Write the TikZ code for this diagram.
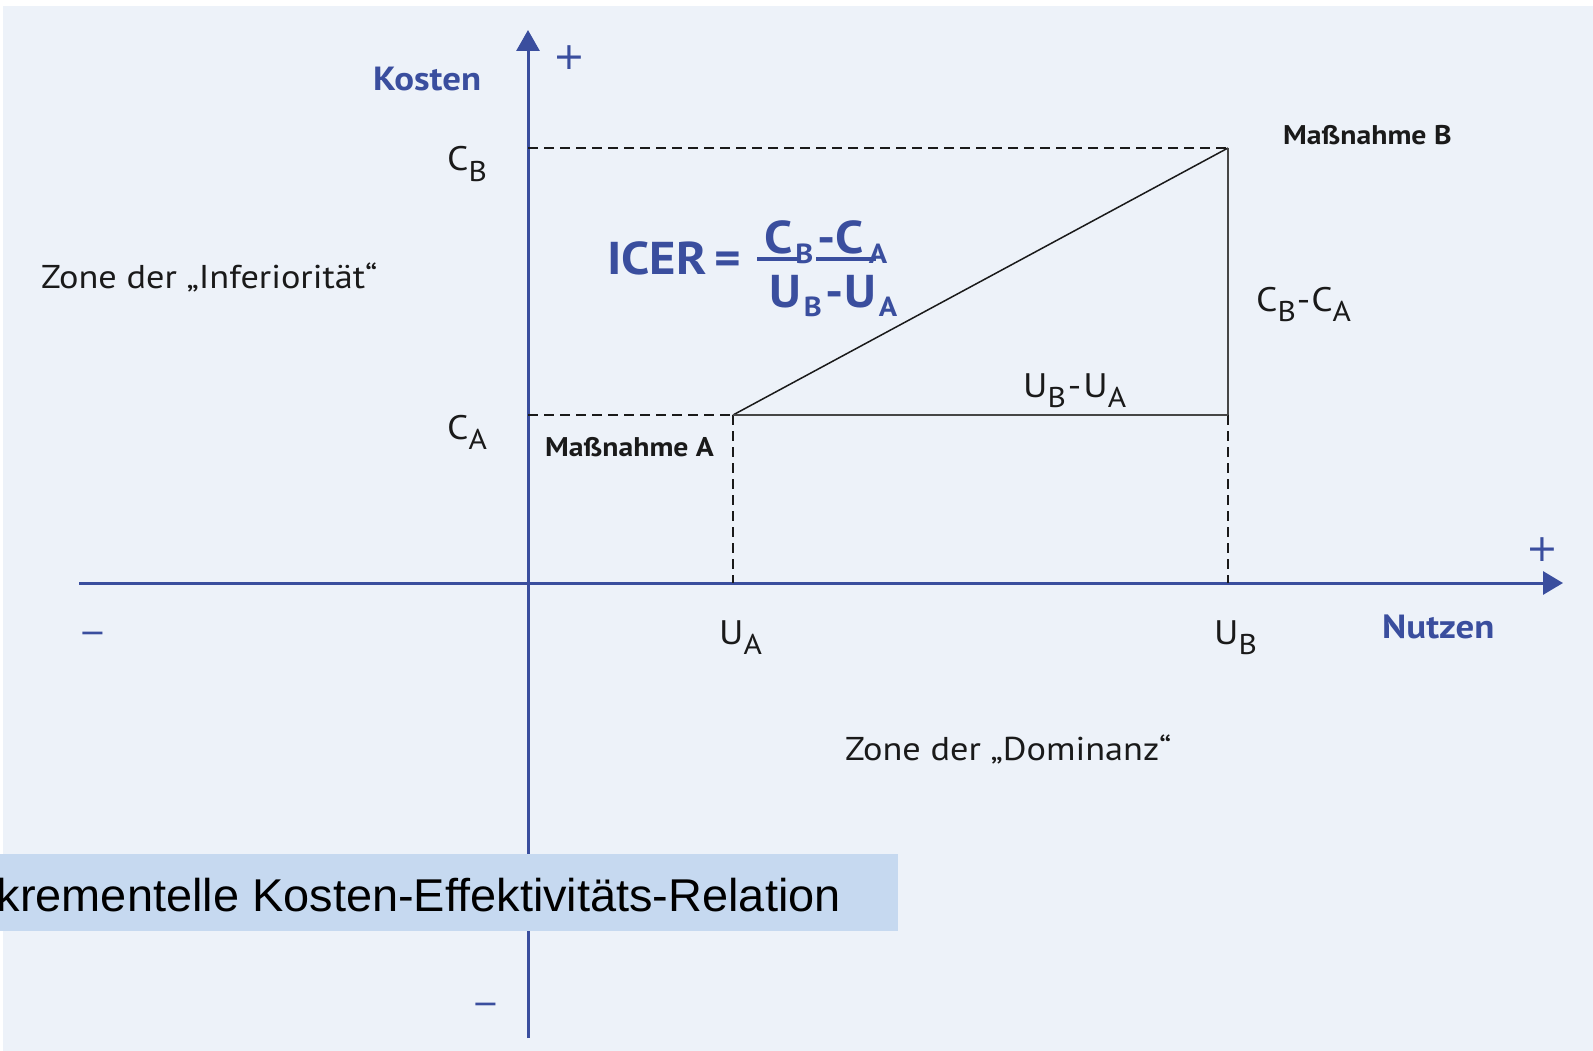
\documentclass[tikz,border=0pt]{standalone}
\usepackage{fontspec}
\setmainfont{PT Sans}[FakeStretch=1.1]
\newfontfamily\arialf{Liberation Sans}
\newfontfamily\dejavu{DejaVu Sans}
\usetikzlibrary{arrows.meta}
\definecolor{bgblue}{RGB}{237,242,249}
\definecolor{axblue}{RGB}{58,78,158}
\definecolor{capblue}{RGB}{198,217,240}
\definecolor{txt}{RGB}{26,26,26}
\definecolor{lgray}{RGB}{70,70,70}
\newcommand{\lsub}[1]{\raisebox{-0.3em}{\scalebox{0.84}{#1}}}
\newcommand{\isub}[1]{\kern3pt\raisebox{-0.2em}{\scalebox{0.6}{#1}}\kern4pt}
\begin{document}
\begin{tikzpicture}[x=1pt,y=-1pt,
  axis/.style={draw=axblue,line width=3pt},
  guide/.style={draw=txt,line width=2.5pt,dash pattern=on 10pt off 6pt},
  side/.style={draw=lgray,line width=1.8pt},
  lbl/.style={inner sep=0pt,text=txt,font=\fontsize{34}{40}\selectfont},
  zone/.style={inner sep=0pt,text=txt,font=\fontsize{33}{38}\selectfont},
  mass/.style={inner sep=0pt,text=txt,font=\bfseries\fontsize{27}{31}\selectfont},
  axlbl/.style={inner sep=0pt,text=axblue,font=\bfseries\fontsize{33.5}{38}\selectfont},
  sign/.style={inner sep=0pt,text=axblue,font=\dejavu\fontsize{38}{42}\selectfont},
  msign/.style={inner sep=0pt,text=axblue,font=\dejavu\fontsize{32}{36}\selectfont},
  icer/.style={inner sep=0pt,text=axblue,font=\bfseries\fontsize{46}{52}\selectfont}]
\useasboundingbox (0,0) rectangle (1593,1051);
\fill[white] (0,0) rectangle (1593,1051);
\fill[bgblue] (3,6) rectangle (1593,1051);
% coordinates
\coordinate (ybot) at (528,1038);
\coordinate (ytop) at (528,30);
\coordinate (xleft) at (79,583);
\coordinate (xright) at (1563,583);
\coordinate (cbaxis) at (528,148);
\coordinate (caaxis) at (528,415);
\coordinate (mA) at (733,415);
\coordinate (mB) at (1228,148);
\coordinate (corner) at (1228,415);
\coordinate (uA) at (733,583);
\coordinate (uB) at (1228,583);
% axes
\draw[axis,-{Triangle[length=21pt,width=23pt]}] (ybot) -- (ytop);
\draw[axis,-{Triangle[length=20pt,width=23pt]}] (xleft) -- (xright);
% guides
\draw[guide] (cbaxis) -- (mB);
\draw[guide] (caaxis) -- (mA);
\draw[guide] (mA) -- (uA);
\draw[guide] (corner) -- (uB);
% triangle
\draw[draw=txt,line width=1.5pt] (mA) -- (mB);
\draw[side] (mB) -- (corner);
\draw[side] (mA) -- (corner);
% labels
\node[axlbl,anchor=base west] (kosten) at (373,91) {Kosten};
\node[axlbl,anchor=base west] (nutzen) at (1382,638) {Nutzen};
\node[sign] (plusy) at (569,58) {+};
\node[sign] (plusx) at (1542,550) {+};
\node[msign] (minx) at (93,638) {−};
\node[msign] (miny) at (486,1009) {−};
\node[lbl,anchor=base west] (cb) at (447,171) {C\lsub{B}};
\node[lbl,anchor=base west] (ca) at (447,439) {C\lsub{A}};
\node[lbl,anchor=base west] (ua) at (719,644) {U\lsub{A}};
\node[lbl,anchor=base west] (ub) at (1214,644) {U\lsub{B}};
\node[lbl,anchor=base west] (dc) at (1256,311) {C\lsub{B}\kern1pt-\kern1pt C\lsub{A}};
\node[lbl,anchor=base west] (du) at (1023,397) {U\lsub{B}\kern2pt-\kern2pt U\lsub{A}};
\node[mass,anchor=base west] (massB) at (1283,145) {Maßnahme B};
\node[mass,anchor=base west] (massA) at (545,456) {Maßnahme A};
\node[zone,anchor=base west] (zinf) at (41,288) {Zone der „Inferiorität“};
\node[zone,anchor=base west] (zdom) at (845,760) {Zone der „Dominanz“};
% ICER formula
\node[icer,anchor=base west] (icerlhs) at (607,274) {ICER\,=};
\node[icer,anchor=base west] (icernum) at (764,254) {C\isub{B}-C\kern2pt\isub{A}};
\node[icer,anchor=base west] (icerden) at (769,307) {U\isub{B}-U\isub{A}};
\draw[axblue,line width=4pt] (757,259) -- (801,259);
\draw[axblue,line width=4pt] (816,259) -- (876,259);
% caption
\fill[capblue] (0,854) rectangle (898,931);
\begin{scope}
\clip (0,854) rectangle (898,931);
\node[inner sep=0pt,anchor=base east] (cap) at (841,911)
  {\scalebox{1.02}[1]{\arialf\fontsize{46}{50}\selectfont krementelle Kosten-Effektivitäts-Relation}};
\end{scope}
\end{tikzpicture}
\end{document}
